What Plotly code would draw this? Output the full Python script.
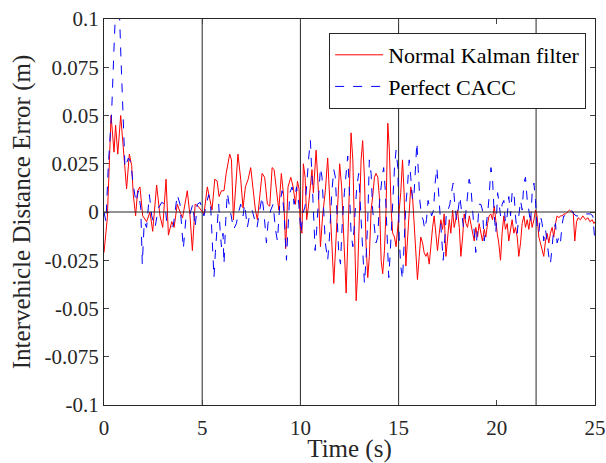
import plotly.graph_objects as go

# Normal Kalman filter (red, solid)
t_kf = [0.0, 0.17, 0.36, 0.51, 0.59, 0.70, 0.85, 0.95, 1.07, 1.15, 1.29, 1.41, 1.49, 1.61, 1.71, 1.83, 1.97,
        2.17, 2.34, 2.48, 2.68, 2.85, 2.99, 3.16, 3.28, 3.45, 3.57, 3.73, 3.87, 4.0, 4.24, 4.38, 4.5, 4.64,
        4.79, 4.96, 5.09, 5.26, 5.38, 5.5, 5.64, 5.76, 5.86, 5.98, 6.11, 6.22, 6.4, 6.49, 6.59, 6.69, 6.82,
        6.96, 7.08, 7.2, 7.34, 7.47, 7.59, 7.71, 7.81, 7.93, 8.05, 8.18, 8.32, 8.44, 8.56, 8.66, 8.78, 8.9,
        9.03, 9.15, 9.25, 9.37, 9.51, 9.63, 9.75, 9.85, 9.93, 10.0, 10.08, 10.15, 10.24, 10.32, 10.41, 10.49,
        10.59, 10.66, 10.8, 10.92, 11.02, 11.14, 11.27, 11.39, 11.48, 11.6, 11.7, 11.81, 11.92, 12.0, 12.1,
        12.21, 12.33, 12.41, 12.5, 12.58, 12.67, 12.75, 12.84, 12.92, 13.0, 13.09, 13.17, 13.26, 13.34, 13.43,
        13.51, 13.6, 13.68, 13.77, 13.85, 13.94, 14.02, 14.11, 14.19, 14.28, 14.36, 14.45, 14.53, 14.62, 14.7,
        14.79, 14.87, 14.96, 15.03, 15.11, 15.2, 15.28, 15.37, 15.45, 15.54, 15.62, 15.71, 15.79, 15.88, 15.96,
        16.05, 16.13, 16.22, 16.3, 16.39, 16.47, 16.56, 16.64, 16.73, 16.81, 16.9, 16.98, 17.07, 17.15, 17.24,
        17.32, 17.41, 17.49, 17.58, 17.66, 17.75, 17.83, 17.92, 18.0, 18.09, 18.17, 18.26, 18.34, 18.43, 18.51,
        18.6, 18.68, 18.77, 18.85, 18.93, 19.02, 19.1, 19.19, 19.27, 19.36, 19.44, 19.53, 19.61, 19.7, 19.78,
        19.87, 19.95, 20.02, 20.1, 20.19, 20.27, 20.36, 20.44, 20.53, 20.61, 20.7, 20.78, 20.87, 20.95, 21.04,
        21.12, 21.21, 21.29, 21.38, 21.46, 21.55, 21.63, 21.72, 21.8, 21.89, 21.97, 22.05, 22.14, 22.22, 22.31,
        22.39, 22.48, 22.56, 22.65, 22.73, 22.82, 22.9, 22.99, 23.07, 23.16, 23.24, 23.33, 23.41, 23.5, 23.58,
        23.7, 23.8, 23.89, 23.97, 24.06, 24.14, 24.26, 24.38, 24.52, 24.64, 24.74, 24.86, 24.94, 25.0]
e_kf = [-0.021, -0.003, 0.050, 0.031, 0.045, 0.030, 0.050, 0.038, 0.021, 0.012, 0.030, 0.024, 0.009, -0.002,
        0.011, 0.013, -0.002, -0.005, 0.0, -0.010, 0.014, -0.002, -0.008, 0.017, -0.012, -0.005, -0.008, 0.004,
        0.0, -0.003, 0.011, -0.002, -0.020, 0.004, 0.003, 0.001, -0.001, 0.013, 0.007, 0.001, 0.017, 0.016,
        0.008, 0.011, 0.011, 0.020, 0.030, 0.027, -0.004, 0.013, 0.030, 0.017, 0.002, 0.013, 0.017, 0.023,
        0.011, 0.001, -0.004, 0.010, 0.020, 0.018, 0.004, 0.003, 0.023, 0.022, 0.010, 0.001, 0.020, 0.008,
        -0.019, 0.013, 0.018, 0.013, 0.004, 0.016, 0.012, -0.009, -0.011, 0.025, 0.018, -0.004, 0.003, 0.013,
        0.022, 0.010, 0.032, 0.010, -0.018, -0.001, 0.011, 0.028, 0.010, -0.016, -0.037, -0.015, 0.010, 0.025,
        0.013, -0.015, -0.042, -0.016, 0.018, 0.041, 0.027, -0.004, -0.046, -0.030, 0.001, 0.027, 0.037, 0.018,
        -0.016, -0.034, -0.023, 0.001, 0.008, 0.018, 0.020, 0.018, 0.008, -0.025, -0.032, -0.020, 0.001, 0.046,
        0.032, 0.001, -0.011, -0.013, -0.018, -0.008, 0.003, 0.010, 0.027, 0.010, -0.028, -0.013, 0.004, 0.013,
        0.008, -0.008, -0.020, -0.035, -0.023, -0.013, -0.016, -0.021, -0.023, -0.021, -0.027, -0.016, -0.008,
        -0.002, -0.013, -0.020, -0.011, -0.004, -0.009, -0.001, -0.023, -0.013, -0.004, -0.011, 0.001, -0.008,
        -0.002, 0.001, -0.008, -0.023, -0.013, -0.001, -0.006, -0.008, -0.002, -0.006, -0.011, -0.015, -0.008,
        -0.013, -0.006, -0.011, -0.015, -0.009, -0.013, -0.006, -0.002, -0.001, -0.004, 0.003, -0.005, -0.011,
        -0.016, -0.025, -0.011, -0.002, -0.009, -0.006, -0.015, -0.008, -0.004, -0.011, -0.008, -0.013, -0.023,
        -0.016, -0.006, -0.002, -0.008, -0.004, -0.009, -0.002, -0.008, -0.004, 0.001, -0.002, -0.013, -0.016,
        -0.020, -0.023, -0.015, -0.011, -0.016, -0.011, -0.008, -0.013, -0.006, -0.002, -0.003, -0.002, -0.002,
        -0.001, -0.001, 0.0, 0.001, 0.0, 0.0, -0.015, -0.005, -0.003, -0.004, -0.002, -0.004, -0.003, -0.005,
        -0.004, -0.006, -0.005]

# Perfect CACC (blue, dashed)
t_cacc = [0.0, 0.1, 0.22, 0.39, 0.51, 0.61, 0.70, 0.78, 0.87, 0.95, 1.07, 1.24, 1.36, 1.49, 1.63, 1.75, 1.87,
          1.95, 2.05, 2.17, 2.31, 2.43, 2.6, 2.77, 2.94, 3.11, 3.19, 3.4, 3.53, 3.73, 3.87, 4.04, 4.18, 4.35,
          4.52, 4.64, 4.75, 4.9, 5.09, 5.21, 5.33, 5.43, 5.55, 5.6, 5.67, 5.77, 5.84, 5.91, 5.98, 6.06, 6.11,
          6.2, 6.28, 6.37, 6.49, 6.6, 6.74, 6.83, 6.96, 7.08, 7.16, 7.3, 7.42, 7.54, 7.67, 7.79, 7.93, 8.05,
          8.15, 8.27, 8.35, 8.49, 8.61, 8.73, 8.83, 8.95, 9.07, 9.17, 9.29, 9.37, 9.46, 9.58, 9.68, 9.8, 9.92,
          10.03, 10.12, 10.24, 10.34, 10.43, 10.51, 10.59, 10.68, 10.75, 10.83, 10.93, 11.02, 11.1, 11.19, 11.27,
          11.39, 11.48, 11.6, 11.7, 11.78, 11.87, 11.95, 12.04, 12.12, 12.24, 12.33, 12.41, 12.5, 12.58, 12.67,
          12.75, 12.87, 12.97, 13.05, 13.17, 13.26, 13.34, 13.43, 13.51, 13.6, 13.68, 13.77, 13.85, 13.94, 14.02,
          14.16, 14.24, 14.33, 14.41, 14.5, 14.58, 14.67, 14.79, 14.87, 14.96, 15.03, 15.11, 15.2, 15.28, 15.37,
          15.45, 15.54, 15.62, 15.71, 15.79, 15.88, 15.93, 16.0, 16.08, 16.17, 16.25, 16.33, 16.42, 16.5, 16.59,
          16.68, 16.78, 16.86, 16.95, 17.02, 17.1, 17.19, 17.27, 17.36, 17.44, 17.52, 17.61, 17.69, 17.78, 17.86,
          17.95, 18.03, 18.12, 18.2, 18.3, 18.39, 18.47, 18.59, 18.68, 18.76, 18.85, 18.93, 19.02, 19.1, 19.19,
          19.27, 19.36, 19.44, 19.53, 19.61, 19.7, 19.78, 19.87, 19.95, 20.04, 20.1, 20.19, 20.27, 20.36, 20.44,
          20.53, 20.61, 20.7, 20.78, 20.87, 20.95, 21.04, 21.12, 21.21, 21.29, 21.38, 21.46, 21.55, 21.63, 21.72,
          21.8, 21.89, 21.97, 22.05, 22.14, 22.22, 22.31, 22.39, 22.48, 22.56, 22.65, 22.73, 22.82, 22.9, 22.99,
          23.07, 23.16, 23.24, 23.33, 23.41, 23.5, 23.58, 23.7, 23.8, 23.92, 24.04, 24.14, 24.26, 24.43, 24.6,
          24.77, 24.89, 24.96, 25.0]
e_cacc = [0.0, -0.005, 0.024, 0.052, 0.085, 0.110, 0.112, 0.105, 0.078, 0.054, 0.023, 0.028, 0.026, 0.014,
          0.005, 0.011, 0.002, -0.027, -0.005, -0.008, 0.009, -0.002, -0.008, 0.002, 0.005, 0.004, -0.005,
          -0.008, -0.007, 0.009, 0.004, -0.019, -0.002, -0.002, 0.004, -0.008, 0.004, 0.005, -0.002, 0.004,
          0.009, 0.003, -0.027, -0.034, -0.021, -0.006, 0.004, -0.009, -0.018, -0.011, -0.027, -0.004, 0.010,
          0.004, -0.004, -0.009, -0.006, -0.001, 0.004, -0.002, 0.004, -0.008, -0.001, 0.001, -0.004, -0.008,
          0.001, 0.008, -0.001, -0.016, -0.006, 0.001, 0.004, -0.009, -0.015, 0.004, 0.011, -0.001, -0.025,
          -0.004, 0.010, 0.013, 0.004, 0.013, 0.004, -0.011, -0.001, 0.003, 0.018, 0.029, 0.037, 0.018, -0.008,
          -0.020, -0.009, 0.008, 0.023, 0.018, -0.004, -0.016, -0.025, -0.013, 0.010, 0.022, 0.018, -0.004,
          -0.021, -0.027, -0.008, 0.010, 0.022, 0.029, 0.010, -0.011, -0.018, -0.004, 0.013, 0.020, 0.004,
          -0.020, -0.037, -0.025, -0.004, 0.027, 0.020, 0.001, -0.009, -0.016, -0.013, 0.004, 0.018, 0.023,
          0.010, -0.013, -0.034, -0.020, 0.001, 0.023, 0.032, 0.023, -0.013, -0.028, -0.035, -0.016, 0.004,
          0.013, 0.027, 0.018, 0.006, 0.010, 0.032, 0.036, 0.022, 0.006, -0.002, -0.004, -0.009, -0.004, 0.006,
          0.001, -0.002, 0.001, 0.015, 0.023, 0.013, -0.002, -0.013, -0.025, -0.013, 0.001, 0.001, 0.004, 0.010,
          0.015, 0.004, -0.004, 0.001, 0.008, 0.001, -0.008, -0.004, 0.004, 0.017, 0.013, 0.001, -0.013, -0.021,
          -0.008, 0.004, 0.004, 0.001, -0.015, -0.009, -0.001, 0.008, 0.023, 0.018, -0.002, -0.011, 0.010,
          0.006, -0.002, 0.004, 0.006, -0.006, -0.002, 0.008, -0.002, 0.010, 0.011, -0.002, -0.011, -0.002,
          0.006, 0.001, 0.015, 0.018, 0.006, 0.001, -0.006, 0.010, 0.015, 0.006, -0.008, -0.011, -0.002,
          -0.006, -0.015, -0.009, -0.016, -0.023, -0.027, -0.016, -0.009, -0.006, -0.016, -0.013, -0.016,
          -0.006, -0.002, -0.002, -0.001, 0.0, 0.001, -0.001, -0.002, -0.002, -0.001, -0.001, -0.001, -0.001,
          -0.002, -0.013, -0.016]

phase_times = [5, 10, 15, 22]
x_ticks = [0, 5, 10, 15, 20, 25]
y_ticks = [-0.1, -0.075, -0.05, -0.025, 0, 0.025, 0.05, 0.075, 0.1]
y_tick_text = ["-0.1", "-0.075", "-0.05", "-0.025", "0", "0.025", "0.05", "0.075", "0.1"]

FONT = "Liberation Serif"

fig = go.Figure()
fig.add_trace(go.Scatter(x=t_kf, y=e_kf, mode="lines", name="Normal Kalman filter",
                         line=dict(color="#ff0000", width=1)))
fig.add_trace(go.Scatter(x=t_cacc, y=e_cacc, mode="lines", name="Perfect CACC",
                         line=dict(color="#0000ff", width=1, dash="dash")))

for pt in phase_times:
    fig.add_shape(type="line", xref="x", yref="paper", x0=pt, x1=pt, y0=0, y1=1,
                  line=dict(color="#262626", width=1), layer="below")
fig.add_shape(type="line", xref="paper", yref="y", x0=0, x1=1, y0=0, y1=0,
              line=dict(color="#262626", width=1), layer="above")

fig.update_layout(
    width=606, height=463,
    margin=dict(l=104, r=11, t=19, b=58, autoexpand=False),
    paper_bgcolor="white", plot_bgcolor="white",
    font=dict(family=FONT, size=21, color="#262626"),
    showlegend=True,
    legend=dict(x=0.982, y=0.9637, xanchor="right", yanchor="top",
                bgcolor="white", bordercolor="#262626", borderwidth=1,
                font=dict(family=FONT, size=22, color="#000000"),
                tracegroupgap=0, itemwidth=48),
    xaxis=dict(range=[0, 25], tickvals=x_ticks, ticks="inside", ticklen=5,
               showline=True, linecolor="#262626", linewidth=1, mirror="ticks",
               showgrid=False, zeroline=False, ticklabelstandoff=4, automargin=False,
               title=dict(text="Time (s)", font=dict(family=FONT, size=25), standoff=6),
               tickfont=dict(family=FONT, size=21)),
    yaxis=dict(range=[-0.1, 0.1], tickvals=y_ticks, ticktext=y_tick_text, ticks="inside", ticklen=5,
               showline=True, linecolor="#262626", linewidth=1, mirror="ticks",
               showgrid=False, zeroline=False, automargin=False,
               title=dict(text="Intervehicle Distance Error (m)", font=dict(family=FONT, size=25), standoff=6),
               tickfont=dict(family=FONT, size=21)),
)

fig.write_html("out.html")
